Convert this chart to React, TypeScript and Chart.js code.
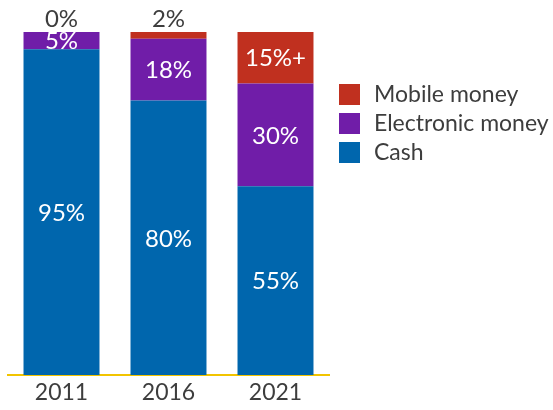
import React, { useEffect, useRef } from 'react';
import { Chart, registerables } from 'chart.js';

Chart.register(...registerables);

const categories = ['2011', '2016', '2021'];
const cashValues = [95, 80, 55];
const electronicValues = [5, 18, 30];
const mobileValues = [0, 2, 15];
const cashLabels = ['95%', '80%', '55%'];
const electronicLabels = ['5%', '18%', '30%'];
const mobileLabels = ['0%', '2%', '15%+'];
const seriesNames = ['Cash', 'Electronic money', 'Mobile money'];
const seriesColors = ['#0066AD', '#701DA8', '#C0301F'];

const FONT = 'Lato, "Open Sans", sans-serif';
const TEXT_DARK = '#3d3d3d';

const segmentLabels = [cashLabels, electronicLabels, mobileLabels];

const labelPlugin = {
  id: 'segmentLabels',
  afterDatasetsDraw(chart: any) {
    const ctx = chart.ctx;
    ctx.save();
    ctx.font = `24px ${FONT}`;
    ctx.textAlign = 'center';
    chart.data.datasets.forEach((ds: any, di: number) => {
      const meta = chart.getDatasetMeta(di);
      meta.data.forEach((el: any, i: number) => {
        const v = ds.data[i];
        const text = segmentLabels[di][i];
        if (v >= 5) {
          ctx.fillStyle = '#ffffff';
          ctx.textBaseline = 'middle';
          ctx.fillText(text, el.x, (el.y + el.base) / 2 + 1);
        } else {
          ctx.fillStyle = TEXT_DARK;
          ctx.textBaseline = 'bottom';
          ctx.fillText(text, el.x, Math.min(el.y, el.base) - 1);
        }
      });
    });
    ctx.restore();
  },
};

const legendPlugin = {
  id: 'sideLegend',
  afterDraw(chart: any) {
    const ctx = chart.ctx;
    ctx.save();
    ctx.font = `23px ${FONT}`;
    ctx.textAlign = 'left';
    ctx.textBaseline = 'middle';
    const dsList = chart.data.datasets.slice().reverse();
    const x0 = chart.chartArea.right + 10;
    let y = 84;
    dsList.forEach((ds: any) => {
      ctx.fillStyle = ds.backgroundColor;
      ctx.fillRect(x0, y, 21, 21);
      ctx.fillStyle = TEXT_DARK;
      ctx.fillText(ds.label, x0 + 35, y + 11);
      y += 29;
    });
    ctx.restore();
  },
};

export default function App() {
  const ref = useRef<HTMLCanvasElement | null>(null);
  useEffect(() => {
    document.body.style.margin = '0';
    const chart = new Chart(ref.current as HTMLCanvasElement, {
      type: 'bar',
      data: {
        labels: categories,
        datasets: [
          { label: seriesNames[0], data: cashValues, backgroundColor: seriesColors[0] },
          { label: seriesNames[1], data: electronicValues, backgroundColor: seriesColors[1] },
          { label: seriesNames[2], data: mobileValues, backgroundColor: seriesColors[2] },
        ],
      },
      options: {
        animation: false,
        responsive: false,
        maintainAspectRatio: false,
        datasets: { bar: { barPercentage: 0.71, categoryPercentage: 1 } },
        layout: { padding: { left: 8, right: 224, top: 32, bottom: 0 } },
        plugins: { legend: { display: false }, tooltip: { enabled: false } },
        scales: {
          x: {
            stacked: true,
            grid: { display: false, drawTicks: false },
            border: { display: true, color: '#F2C400', width: 2 },
            ticks: { color: TEXT_DARK, font: { family: FONT, size: 23 }, padding: 4 },
            afterFit: (scale: any) => {
              scale.height = 35;
            },
          },
          y: { stacked: true, display: false, min: 0, max: 100 },
        },
      },
      plugins: [labelPlugin, legendPlugin],
    });
    return () => chart.destroy();
  }, []);
  return (
    <div style={{ width: 553, height: 410 }}>
      <canvas ref={ref} width={553} height={410} style={{ display: 'block' }} />
    </div>
  );
}
